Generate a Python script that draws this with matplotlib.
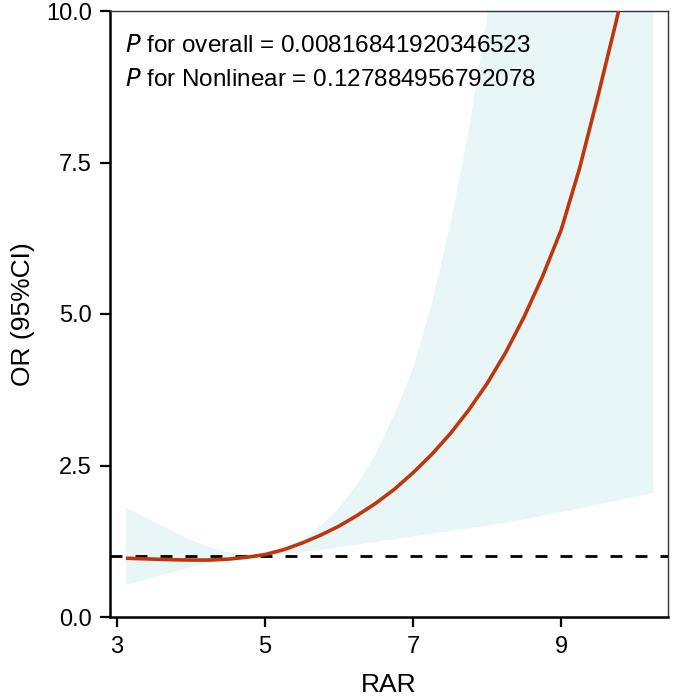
import matplotlib
matplotlib.use("Agg")
import matplotlib.pyplot as plt
import numpy as np

plt.rcParams['font.family'] = ['Liberation Sans', 'DejaVu Sans']

# data
rar = [3.12, 3.25, 3.5, 3.75, 4.0, 4.25, 4.5, 4.75, 5.0, 5.25, 5.5, 5.75, 6.0, 6.25, 6.5,
       6.75, 7.0, 7.25, 7.5, 7.75, 8.0, 8.25, 8.5, 8.75, 9.0, 9.25, 9.5, 9.75, 10.0, 10.25]
or_fit = [0.97, 0.965, 0.955, 0.945, 0.94, 0.94, 0.955, 0.985, 1.03, 1.11, 1.22, 1.35, 1.50, 1.68, 1.88,
          2.11, 2.38, 2.68, 3.02, 3.41, 3.85, 4.36, 4.95, 5.62, 6.38, 7.40, 8.60, 9.85, 11.2, 12.7]
ci_upper = [1.80, 1.72, 1.57, 1.42, 1.27, 1.15, 1.07, 1.03, 1.04, 1.12, 1.28, 1.50, 1.80, 2.20, 2.70,
            3.35, 4.10, 5.15, 6.45, 8.00, 9.90, 12.0, 14.5, 17.0, 20.0, 23.0, 27.0, 31.0, 36.0, 42.0]
ci_lower = [0.53, 0.57, 0.66, 0.74, 0.82, 0.89, 0.94, 0.98, 1.00, 1.04, 1.07, 1.11, 1.15, 1.195, 1.24,
            1.285, 1.33, 1.375, 1.42, 1.465, 1.51, 1.56, 1.61, 1.67, 1.73, 1.79, 1.86, 1.92, 1.98, 2.05]

p_overall = "0.00816841920346523"
p_nonlinear = "0.127884956792078"

x = np.array(rar)

fig = plt.figure(figsize=(6.73, 6.96), dpi=100)
ax = fig.add_axes([110/673, 1-617/696, (668-110)/673, (617-11)/696])

ax.fill_between(x, ci_lower, ci_upper, color='#e8f6f8', lw=0, zorder=1)
ax.axhline(1, color='black', lw=2.0, ls=(0, (4.3, 4.7)), zorder=2)
ax.plot(x, or_fit, color='#c0360c', lw=2.6, zorder=3, solid_capstyle='butt')

ax.set_xlim(2.905, 10.446)
ax.set_ylim(0, 10)
ax.set_xticks([3, 5, 7, 9])
ax.set_yticks([0, 2.5, 5.0, 7.5, 10.0])
ax.set_yticklabels(['0.0', '2.5', '5.0', '7.5', '10.0'])
ax.tick_params(axis='both', labelsize=17, length=7, width=1.6, direction='out')
ax.tick_params(axis='x', pad=7)
ax.tick_params(axis='y', pad=6)

for side in ['left', 'bottom']:
    ax.spines[side].set_linewidth(1.8)
for side in ['top', 'right']:
    ax.spines[side].set_linewidth(1.0)
    ax.spines[side].set_color('#333333')

ax.set_xlabel('RAR', fontsize=19)
ax.set_ylabel('OR (95%CI)', fontsize=19)
ax.xaxis.set_label_coords(0.5, -0.092)
ax.yaxis.set_label_coords(-0.135, 0.5)

ax.text(0.027, 0.933, r'$\it{P}$ for overall = ' + p_overall, transform=ax.transAxes,
        fontsize=17.5, va='baseline', ha='left')
ax.text(0.027, 0.876, r'$\it{P}$ for Nonlinear = ' + p_nonlinear, transform=ax.transAxes,
        fontsize=17.5, va='baseline', ha='left')

fig.savefig('out.png', dpi=100)
